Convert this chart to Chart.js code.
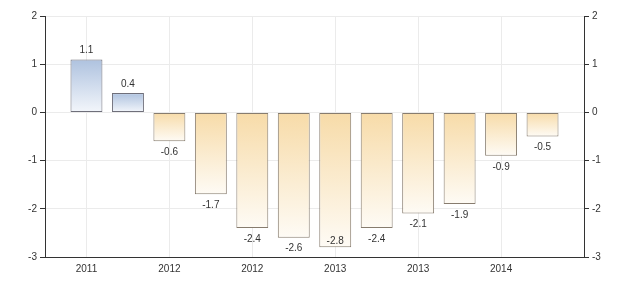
<!DOCTYPE html>
<html>
<head>
<meta charset="utf-8">
<script src="https://cdn.jsdelivr.net/npm/chart.js@4/dist/chart.umd.min.js"></script>
<style>
  html, body { margin: 0; padding: 0; background: #fff; }
  #wrap { width: 630px; height: 288px; }
</style>
</head>
<body>
<div id="wrap"><canvas id="chart" width="630" height="288"></canvas></div>
<script>
// values per bar, left to right
const values = [1.1, 0.4, -0.6, -1.7, -2.4, -2.6, -2.8, -2.4, -2.1, -1.9, -0.9, -0.5];
// axis labels, shown under every second bar starting with the first
const tickLabels = ["2011", "2012", "2012", "2013", "2013", "2014"];
const yTicks = [-3, -2, -1, 0, 1, 2];

// one empty slot on each side so bars sit between the axes
const labels = ["", ...values.map((v, i) => (i % 2 === 0 ? tickLabels[i / 2] : "")), ""];
const data = [null, ...values, null];

const FONT = { family: "'Liberation Sans', Arial, sans-serif", size: 10 };
const TEXT = "#333";
const GRID = "#ebebeb";

function barFill(ctx) {
  const chart = ctx.chart;
  const v = ctx.raw;
  if (!chart.chartArea || v == null) return "transparent";
  const y = chart.scales.y;
  const p0 = y.getPixelForValue(0);
  const p1 = y.getPixelForValue(v);
  const g = chart.ctx.createLinearGradient(0, Math.min(p0, p1), 0, Math.max(p0, p1));
  if (v > 0) {
    g.addColorStop(0, "#aec2df");
    g.addColorStop(1, "#f3f6fb");
  } else {
    g.addColorStop(0, "#f7dba8");
    g.addColorStop(1, "#fefbf5");
  }
  return g;
}

// value text above positive bars, below negative ones (inside if no room)
const valueLabels = {
  id: "valueLabels",
  afterDatasetsDraw(chart) {
    const c = chart.ctx;
    const meta = chart.getDatasetMeta(0);
    const bottom = chart.chartArea.bottom;
    c.save();
    c.font = FONT.size + "px " + FONT.family;
    c.fillStyle = TEXT;
    c.textAlign = "center";
    c.textBaseline = "middle";
    meta.data.forEach((bar, i) => {
      const v = data[i];
      if (v == null) return;
      let y = v >= 0 ? bar.y - 9 : bar.y + 11;
      if (v < 0 && y > bottom - 6) y = bar.y - 6;
      c.fillText(v.toFixed(1), bar.x, y);
    });
    c.restore();
  }
};

new Chart(document.getElementById("chart"), {
  type: "bar",
  data: {
    labels,
    datasets: [{
      data,
      backgroundColor: barFill,
      borderColor: (ctx) => (ctx.raw > 0 ? "#6f6f7a" : "#877c6e"),
      borderWidth: 1,
      borderSkipped: false,
      categoryPercentage: 1,
      barPercentage: 0.77
    }]
  },
  options: {
    responsive: false,
    animation: false,
    layout: { padding: { top: 16 } },
    plugins: { legend: { display: false }, tooltip: { enabled: false } },
    scales: {
      x: {
        offset: false,
        grid: {
          offset: false,
          drawTicks: false,
          color: (ctx) => (ctx.index % 2 === 1 && ctx.index < labels.length - 1 ? GRID : "transparent")
        },
        border: { color: TEXT, width: 1 },
        ticks: { autoSkip: false, maxRotation: 0, padding: 6, color: TEXT, font: FONT },
        afterFit: (s) => { s.height = 31; }
      },
      y: {
        position: "left",
        min: yTicks[0],
        max: yTicks[yTicks.length - 1],
        afterBuildTicks: (s) => { s.ticks = yTicks.map((v) => ({ value: v })); },
        grid: { color: GRID, tickColor: TEXT, tickLength: 5 },
        border: { color: TEXT, width: 1 },
        ticks: { padding: 3, color: TEXT, font: FONT },
        afterFit: (s) => { s.width = 45; }
      },
      y2: {
        position: "right",
        min: yTicks[0],
        max: yTicks[yTicks.length - 1],
        afterBuildTicks: (s) => { s.ticks = yTicks.map((v) => ({ value: v })); },
        grid: { drawOnChartArea: false, tickColor: TEXT, tickLength: 5 },
        border: { color: TEXT, width: 1 },
        ticks: { padding: 3, color: TEXT, font: FONT },
        afterFit: (s) => { s.width = 46; }
      }
    }
  },
  plugins: [valueLabels]
});
</script>
</body>
</html>
